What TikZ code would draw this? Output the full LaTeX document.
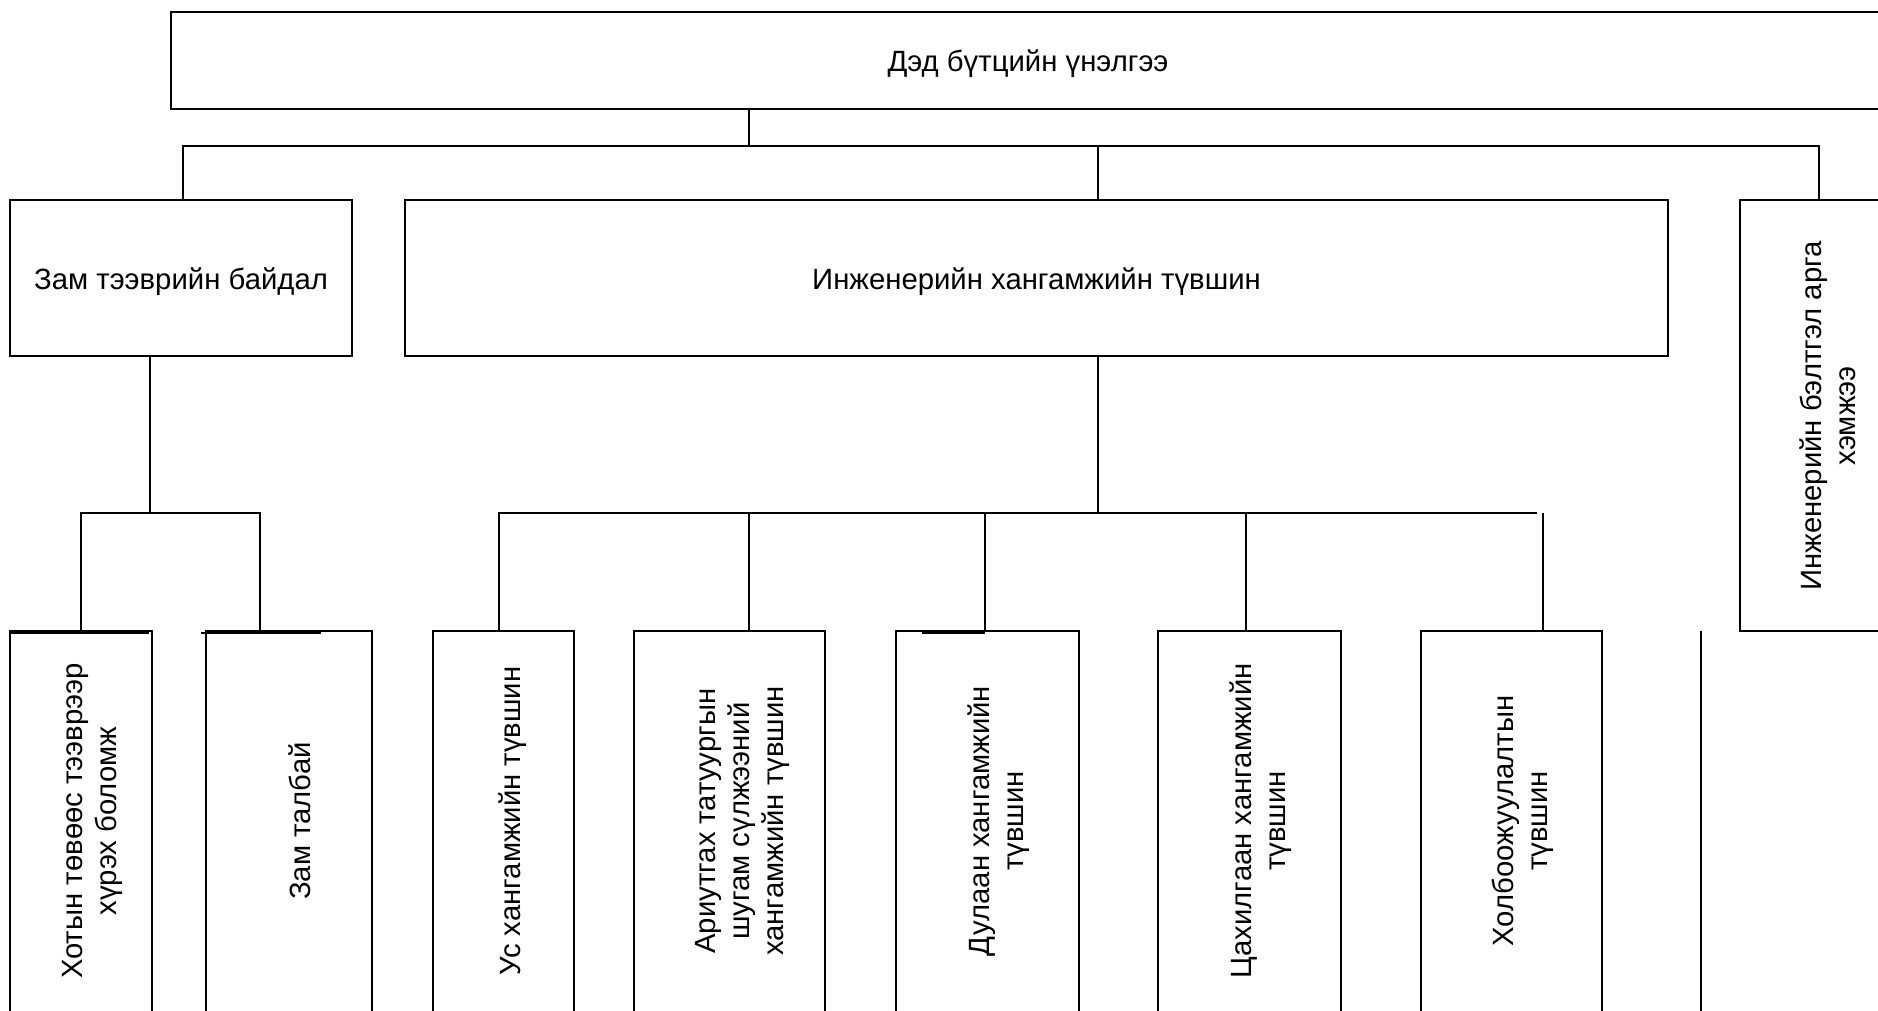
\documentclass[tikz,border=0pt]{standalone}
\usepackage{fontspec}
\setmainfont{Liberation Sans}
\tikzset{
  pic font/.style={font=\fontsize{29.3}{34}\selectfont},
  box/.style={draw=black, line width=1.8pt, rectangle, inner sep=0pt, outer sep=0pt, pic font},
  hlabel/.style={inner sep=0pt, pic font},
  vlabel/.style={rotate=90, align=center, inner sep=0pt, pic font},
  conn/.style={draw=black, line width=1.8pt},
}
\begin{document}
\begin{tikzpicture}[x=1pt,y=-1pt]
\useasboundingbox (0,0) rectangle (1878,1010);
\clip (0,0) rectangle (1878,1010);
\fill[white] (0,0) rectangle (1878,1010);

% top level
\node[box, minimum width=1714pt, minimum height=97pt] (top) at (1028,60.5) {};
\node[hlabel] (topT) at (1028,64) {Дэд бүтцийн үнэлгээ};

% second level
\node[box, minimum width=342pt, minimum height=156pt] (zam) at (181,278) {};
\node[hlabel] (zamT) at (181,281.5) {Зам тээврийн байдал};
\node[box, minimum width=1263pt, minimum height=156pt] (inj) at (1036.5,278) {};
\node[hlabel] (injT) at (1036.5,281.5) {Инженерийн хангамжийн түвшин};
\node[box, minimum width=180pt, minimum height=431pt] (belt) at (1830,415.5) {};
\node[vlabel] (beltT) at (1828,416) {Инженерийн бэлтгэл арга\\хэмжээ};

% bottom level
\node[box, minimum width=142pt, minimum height=382pt] (b1) at (81,822) {};
\node[box, minimum width=166pt, minimum height=382pt] (b2) at (289,822) {};
\node[box, minimum width=141pt, minimum height=382pt] (b3) at (503.5,822) {};
\node[box, minimum width=191pt, minimum height=382pt] (b4) at (729.5,822) {};
\node[box, minimum width=183pt, minimum height=382pt] (b5) at (987.5,822) {};
\node[box, minimum width=183pt, minimum height=382pt] (b6) at (1249.5,822) {};
\node[box, minimum width=181pt, minimum height=382pt] (b7) at (1511.5,822) {};

\node[vlabel] (t1) at (92,821) {Хотын төвөөс тээврээр\\хүрэх боломж};
\node[vlabel] (t2) at (300,821) {Зам талбай};
\node[vlabel] (t3) at (513,821) {Ус хангамжийн түвшин};
\node[vlabel] (t4) at (742,821) {Ариутгах татуургын\\шугам сүлжээний\\хангамжийн түвшин};
\node[vlabel] (t5) at (999,821) {Дулаан хангамжийн\\түвшин};
\node[vlabel] (t6) at (1261,821) {Цахилгаан хангамжийн\\түвшин};
\node[vlabel] (t7) at (1523,821) {Холбоожуулалтын\\түвшин};

% junction coordinates
\coordinate (jTop) at (749,146);
\coordinate (jL) at (183,146);
\coordinate (jI) at (1098,146);
\coordinate (jR) at (1819,146);
\coordinate (jZ) at (150,513);
\coordinate (jZl) at (81,513);
\coordinate (jZr) at (260,513);
\coordinate (k1) at (499,513);
\coordinate (k2) at (749,513);
\coordinate (k3) at (985,513);
\coordinate (k4) at (1246,513);
\coordinate (k5) at (1537,513);
\coordinate (k6) at (1543,513);
\coordinate (jI2) at (1098,513);
\coordinate (s1) at (1701,631);
\coordinate (s2) at (1701,1013);

% connectors level 1
\draw[conn] (top.south -| jTop) -- (jTop);
\draw[conn] (jL |- zam.north) -- (jL) -- (jR) -- (jR |- belt.north);
\draw[conn] (jI) -- (jI |- inj.north);

% under Zam
\draw[conn] (zam.south -| jZ) -- (jZ);
\draw[conn] (jZl |- b1.north) -- (jZl) -- (jZr) -- (jZr |- b2.north);

% under Inj
\draw[conn] (inj.south -| jI2) -- (jI2);
\draw[conn] (k1 |- b3.north) -- (k1) -- (k5);
\draw[conn] (k2) -- (k2 |- b4.north);
\draw[conn] (k3) -- (k3 |- b5.north);
\draw[conn] (k4) -- (k4 |- b6.north);
\draw[conn] (k6) -- (k6 |- b7.north);

% stray line
\draw[conn] (s1) -- (s2);

% doubled top-edge fragments
\draw[conn] ([yshift=-2pt]b1.north west) -- ([yshift=-2pt,xshift=-3pt]b1.north east);
\draw[conn] ([yshift=-2pt,xshift=-5pt]b2.north west) -- ([yshift=-2pt,xshift=-51pt]b2.north east);
\draw[conn] ([yshift=-2pt,xshift=26pt]b5.north west) -- ([yshift=-2pt]k3 |- b5.north);
\end{tikzpicture}
\end{document}
